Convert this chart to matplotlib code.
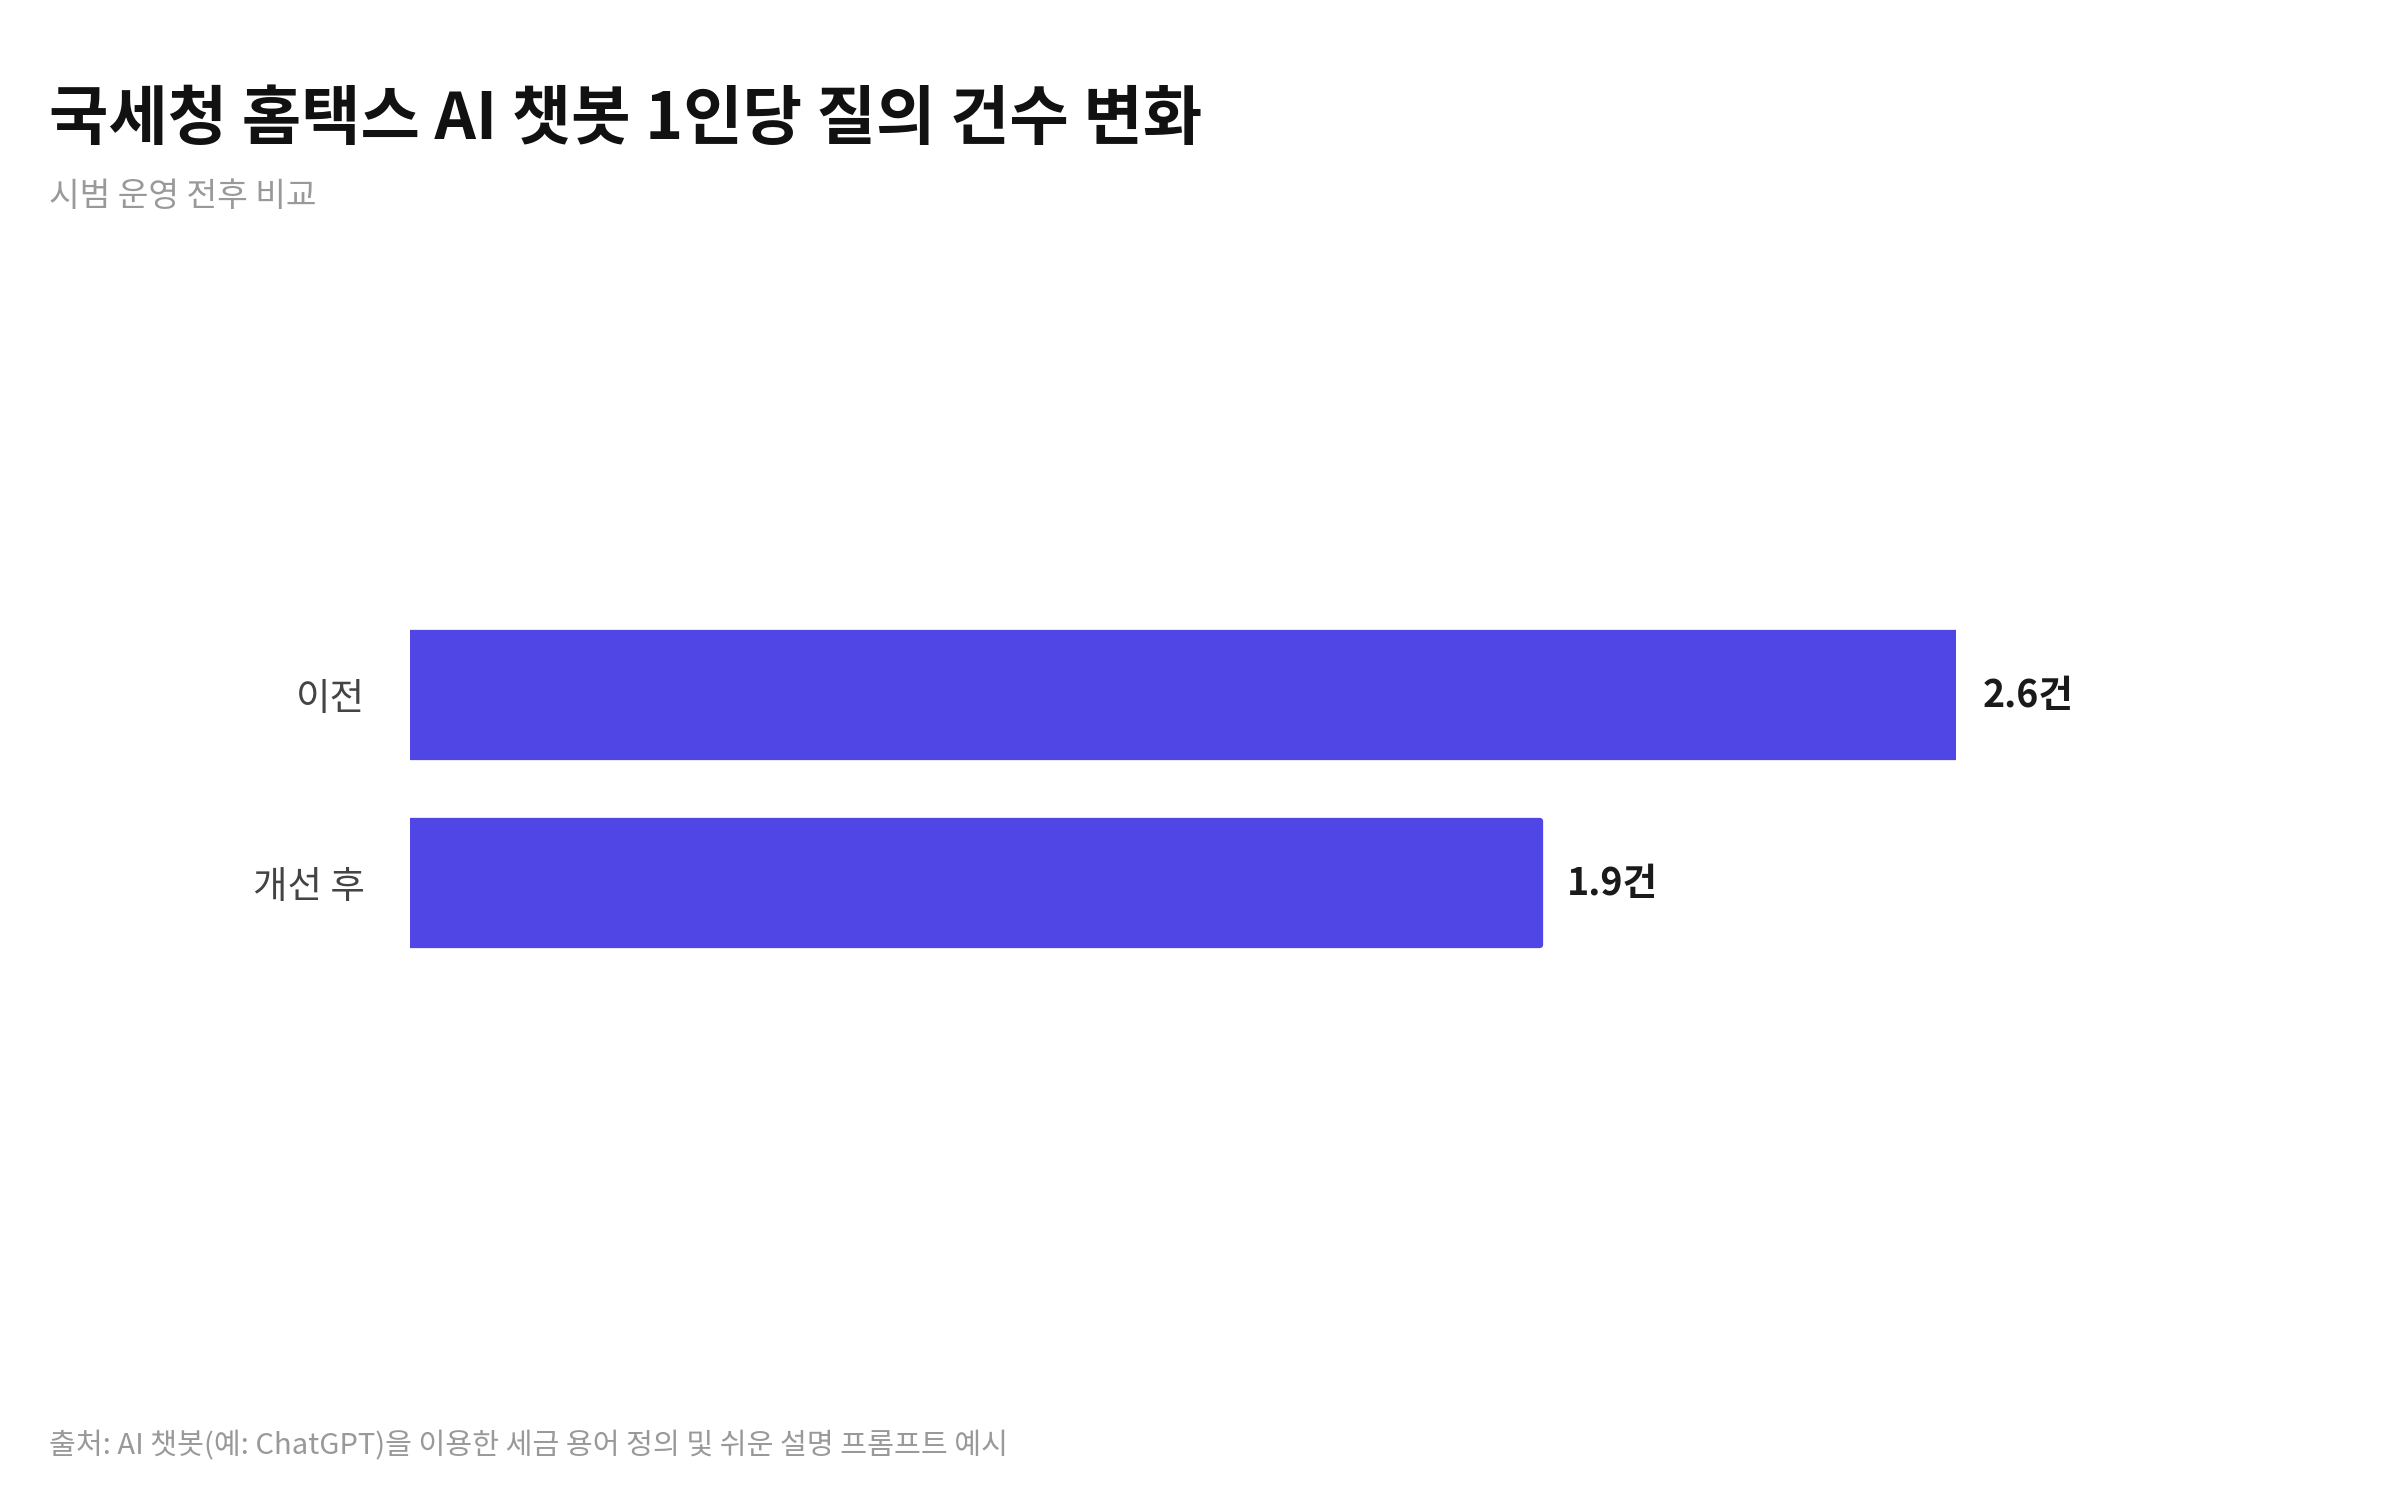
import matplotlib
matplotlib.use("Agg")
import matplotlib.pyplot as plt

plt.rcParams['font.family'] = ['Noto Sans CJK KR', 'DejaVu Sans']

categories = ["개선 후", "이전"]
values = [1.9, 2.6]
labels = ["1.9건", "2.6건"]
color = "#5046E5"

fig = plt.figure(figsize=(16, 10), dpi=150)
ax = fig.add_axes([0.171, 0.2862, 0.644, 0.3753])
ax.barh(range(len(values)), values, height=0.66, color=color,
        edgecolor=color, linewidth=3, joinstyle='round')
ax.set_xlim(0, 2.6)
ax.set_ylim(-1, 2)
ax.set_yticks(range(len(values)))
ax.set_yticklabels(categories, fontsize=18, color="#444444")
ax.tick_params(axis='y', length=0, pad=22)
ax.set_xticks([])
for s in ax.spines.values():
    s.set_visible(False)
for i, (v, l) in enumerate(zip(values, labels)):
    ax.text(v + 0.045, i, l, va='center', ha='left', fontsize=18,
            fontweight='bold', color="#1a1a1a", clip_on=False)

fig.text(0.0205, 0.92, "국세청 홈택스 AI 챗봇 1인당 질의 건수 변화", fontsize=31,
         fontweight='bold', color="#111111", va='center')
fig.text(0.0205, 0.869, "시범 운영 전후 비교", fontsize=16, color="#999999", va='center')
fig.text(0.0205, 0.036, "출처: AI 챗봇(예: ChatGPT)을 이용한 세금 용어 정의 및 쉬운 설명 프롬프트 예시",
         fontsize=14, color="#999999", va='center')

fig.savefig("out.png", dpi=150, facecolor="white")
